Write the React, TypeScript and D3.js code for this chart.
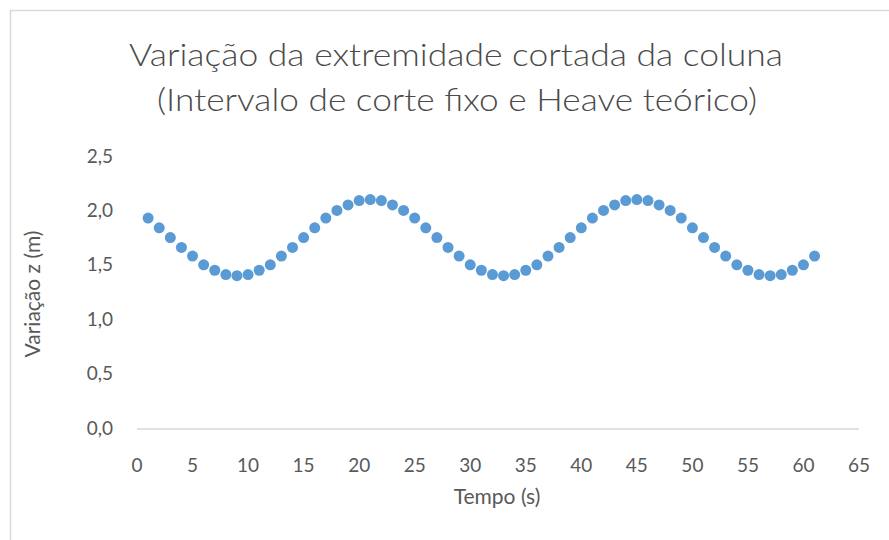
import React from "react";
import * as d3 from "d3";

const times: number[] = [
  1, 2, 3, 4, 5, 6, 7, 8, 9, 10, 11, 12, 13, 14, 15, 16, 17, 18, 19, 20,
  21, 22, 23, 24, 25, 26, 27, 28, 29, 30, 31, 32, 33, 34, 35, 36, 37, 38, 39, 40,
  41, 42, 43, 44, 45, 46, 47, 48, 49, 50, 51, 52, 53, 54, 55, 56, 57, 58, 59, 60, 61,
];
const zValues: number[] = [
  1.93, 1.84, 1.75, 1.66, 1.58, 1.5, 1.45, 1.41, 1.4, 1.41, 1.45, 1.5, 1.58, 1.66, 1.75, 1.84, 1.93, 2.0, 2.05, 2.09,
  2.1, 2.09, 2.05, 2.0, 1.93, 1.84, 1.75, 1.66, 1.58, 1.5, 1.45, 1.41, 1.4, 1.41, 1.45, 1.5, 1.58, 1.66, 1.75, 1.84,
  1.93, 2.0, 2.05, 2.09, 2.1, 2.09, 2.05, 2.0, 1.93, 1.84, 1.75, 1.66, 1.58, 1.5, 1.45, 1.41, 1.4, 1.41, 1.45, 1.5, 1.58,
];
const xTicks: number[] = [0, 5, 10, 15, 20, 25, 30, 35, 40, 45, 50, 55, 60, 65];
const yTicks: number[] = [0, 0.5, 1.0, 1.5, 2.0, 2.5];
const titleLines: string[] = [
  "Variação da extremidade cortada da coluna",
  "(Intervalo de corte fixo e Heave teórico)",
];
const xTitle = "Tempo (s)";
const yTitle = "Variação z (m)";

export default function App() {
  const W = 889;
  const H = 540;
  const x = d3.scaleLinear().domain([0, 65]).range([137, 859]);
  const y = d3.scaleLinear().domain([0, 2.5]).range([428, 156]);
  const fmt = (v: number) => v.toFixed(1).replace(".", ",");
  const font = "Lato, 'Open Sans', sans-serif";
  const txt = "#595959";
  const pts = times.map((t, i) => ({ t, z: zValues[i] }));

  return (
    <svg
      width={W}
      height={H}
      style={{ position: "absolute", left: 0, top: 0, background: "#fff" }}
      fontFamily={font}
    >
      <rect x={0} y={0} width={W} height={H} fill="#fff" />
      <rect x={10.5} y={10.5} width={W + 20} height={H + 20} fill="#fff" stroke="#D9D9D9" strokeWidth={1.5} />
      <text x={456} y={66} textAnchor="middle" fontSize={31} fontWeight={300} fill="#4a4a4a" textLength={654} lengthAdjust="spacingAndGlyphs">
        {titleLines[0]}
      </text>
      <text x={457} y={111} textAnchor="middle" fontSize={31} fontWeight={300} fill="#4a4a4a" textLength={600} lengthAdjust="spacingAndGlyphs">
        {titleLines[1]}
      </text>
      <line x1={x(0)} x2={x(65)} y1={y(0) + 1} y2={y(0) + 1} stroke="#D9D9D9" strokeWidth={1.5} />
      {yTicks.map((v) => (
        <text key={"y" + v} x={113} y={y(v)} dy="0.35em" textAnchor="end" fontSize={19} fill={txt}>
          {fmt(v)}
        </text>
      ))}
      {xTicks.map((v) => (
        <text key={"x" + v} x={x(v)} y={465} dy="0.35em" textAnchor="middle" fontSize={19} fill={txt}>
          {v}
        </text>
      ))}
      <text x={497} y={497} dy="0.35em" textAnchor="middle" fontSize={21} fill={txt}>
        {xTitle}
      </text>
      <text
        transform={`translate(33,${y(1.25) + 2}) rotate(-90)`}
        dy="0.35em"
        textAnchor="middle"
        fontSize={21}
        fill={txt}
      >
        {yTitle}
      </text>
      {pts.map((p) => (
        <circle key={p.t} cx={x(p.t)} cy={y(p.z)} r={5.5} fill="#5B9BD5" />
      ))}
    </svg>
  );
}
